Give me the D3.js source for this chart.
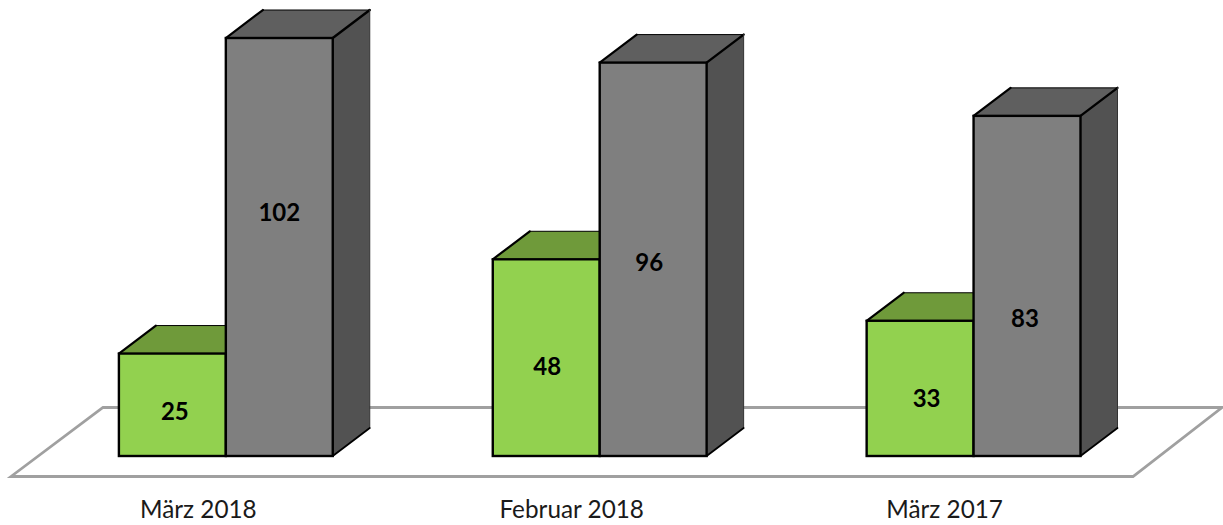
<!DOCTYPE html>
<html>
<head>
<meta charset="utf-8">
<script src="https://cdn.jsdelivr.net/npm/d3@7"></script>
<style>
html,body{margin:0;padding:0;background:#fff;overflow:hidden}
svg{display:block}
</style>
</head>
<body>
<svg id="chart" width="1223" height="525"></svg>
<script>
const categories = ["März 2018", "Februar 2018", "März 2017"];
const seriesNames = ["Grün", "Grau"];
const greenValues = [25, 48, 33];
const greyValues = [102, 96, 83];

const svg = d3.select("#chart");
const baseY = 456, unit = 4.098;
const depthX = 37, depthY = 28;

const x0 = d3.scaleBand().domain(categories).range([118.9, 1080.5]).paddingInner(0.428).paddingOuter(0);
const x1 = d3.scaleBand().domain(seriesNames).range([0, x0.bandwidth()]);
const y = d3.scaleLinear().domain([0, 102]).range([baseY, baseY - 102 * unit]);

const styles = {
  "Grün": {front:"#92d14f", top:"#6f9a3a", side:"#5d8232"},
  "Grau": {front:"#7f7f7f", top:"#5f5f5f", side:"#525252"}
};

// floor
svg.append("path")
  .attr("d", "M11,476.5L103,407.5L1222,407.5L1133,476.5Z")
  .attr("fill", "#fff").attr("stroke", "#a0a0a0").attr("stroke-width", 2.8);

const rows = [];
categories.forEach((c, i) => {
  rows.push({c, s: seriesNames[0], v: greenValues[i]});
  rows.push({c, s: seriesNames[1], v: greyValues[i]});
});

const line = d3.line();
const bars = svg.selectAll("g.bar").data(rows).join("g").attr("class","bar");
bars.each(function(d) {
  const g = d3.select(this);
  const l = x0(d.c) + x1(d.s), r = l + x1.bandwidth(), t = y(d.v), b = y(0);
  const st = styles[d.s];
  const edge = (pts, w, col) => g.append("path").attr("d", line(pts)).attr("fill","none")
    .attr("stroke", col || "#000").attr("stroke-width", w).attr("stroke-linecap","round");
  g.append("path").attr("d", line([[l,t],[l+depthX,t-depthY],[r+depthX,t-depthY],[r,t]]) + "Z").attr("fill", st.top);
  g.append("path").attr("d", line([[r,t],[r+depthX,t-depthY],[r+depthX,b-depthY],[r,b]]) + "Z").attr("fill", st.side);
  edge([[l,t],[l+depthX,t-depthY]], 2.2);
  edge([[r,t],[r+depthX,t-depthY]], 2.4);
  edge([[l+depthX,t-depthY],[r+depthX,t-depthY]], 1);
  edge([[r+depthX,t-depthY],[r+depthX,b-depthY]], 1, "#333");
  edge([[r,b],[r+depthX,b-depthY]], 1.8);
  g.append("rect").attr("x", l).attr("y", t).attr("width", r-l).attr("height", b-t)
    .attr("fill", st.front).attr("stroke","#000").attr("stroke-width",2.4);
});

// value labels were hand-placed in the original: offsets from each bar's centre
const nudges = {
  "März 2018|Grün":[2.5,6], "März 2018|Grau":[0,-35],
  "Februar 2018|Grün":[1,8.5], "Februar 2018|Grau":[-4,3],
  "März 2017|Grün":[6.5,9.5], "März 2017|Grau":[-2,32]
};
svg.selectAll("text.val").data(rows).join("text").attr("class","val")
  .attr("x", d => x0(d.c) + x1(d.s) + x1.bandwidth()/2 + nudges[d.c+"|"+d.s][0])
  .attr("y", d => (y(d.v)+y(0))/2 + nudges[d.c+"|"+d.s][1] + 9)
  .attr("text-anchor","middle")
  .attr("font-family","Lato, 'Open Sans', sans-serif").attr("font-weight","700")
  .attr("font-size", 24).attr("fill","#000")
  .text(d => d.v);

// category labels sit left of the group centre
const labelNudge = [-27.5, -28, -29];
svg.selectAll("text.cat").data(categories).join("text").attr("class","cat")
  .attr("x", (d,i) => x0(d) + x0.bandwidth()/2 + labelNudge[i])
  .attr("y", 518)
  .attr("text-anchor","middle")
  .attr("font-family","Lato, 'Open Sans', sans-serif")
  .attr("font-size", 24.3).attr("fill","#1a1a1a")
  .text(d => d);
</script>
</body>
</html>
